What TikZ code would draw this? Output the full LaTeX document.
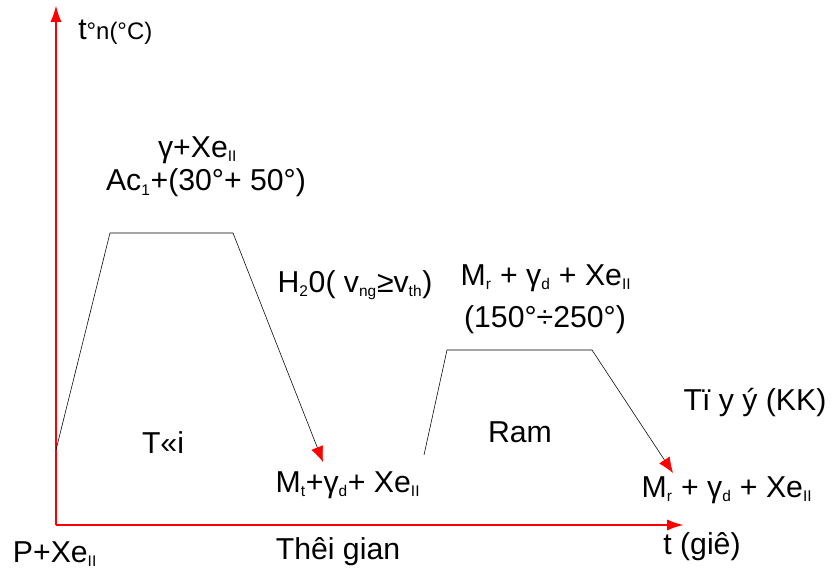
\documentclass[tikz,border=0pt]{standalone}
\usepackage{fontspec}
\setmainfont{Liberation Sans}
\usetikzlibrary{arrows.meta}
\newcommand{\lo}[1]{\textsubscript{\fontsize{11}{12}\selectfont #1}}

\begin{document}
\begin{tikzpicture}[scale=1,
  lbl/.style={font=\fontsize{21.5}{24}\selectfont, inner sep=0pt},
  axis/.style={red, line width=1.8pt, -{Latex[length=12pt,width=8pt]}},
  tip/.style={-{Latex[red,length=11pt,width=9pt]}}]
\useasboundingbox (-1.4,-1.1) rectangle (19.6,13.125);
% axes
\coordinate (o) at (0,0);
\coordinate (ytop) at (0,13.0);
\coordinate (xend) at (15.7,0);
\draw[axis] (o) -- (ytop);
\draw[axis] (o) -- (xend);
% toi
\coordinate (a0) at (0,1.875);
\coordinate (a1) at (1.35,7.3);
\coordinate (a2) at (4.425,7.3);
\coordinate (a3) at (6.675,1.575);
\draw (a0) -- (a1) -- (a2);
\draw[tip] (a2) -- (a3);
% ram
\coordinate (b0) at (9.2,1.75);
\coordinate (b1) at (9.775,4.375);
\coordinate (b2) at (13.4,4.375);
\coordinate (b3) at (15.425,1.3);
\draw (b0) -- (b1) -- (b2);
\draw[tip] (b2) -- (b3);
% labels
\node[lbl,anchor=west] (ylab) at (0.55,12.325) {t{\fontsize{17}{18}\selectfont°n(°C)}};
\node[lbl] (gx) at (3.54,9.375) {γ+Xe\lo{II}};
\node[lbl] (ac) at (3.75,8.55) {Ac\lo{1}+(30°+ 50°)};
\node[lbl] (nuoc) at (7.475,6.0) {H\lo{2}0( v\lo{ng}≥v\lo{th})};
\node[lbl] (mr1) at (12.25,6.175) {M\lo{r} + γ\lo{d} + Xe\lo{II}};
\node[lbl] (nd) at (12.225,5.125) {(150°÷250°)};
\node[lbl] (toi) at (2.675,2.05) {T«i};
\node[lbl] (ram) at (11.6,2.325) {Ram};
\node[lbl] (mt) at (7.3,1.0) {M\lo{t}+γ\lo{d}+ Xe\lo{II}};
\node[lbl] (tg) at (7.05,-0.675) {Thêi gian};
\node[lbl] (kk) at (17.475,3.05) {Tï y ý (KK)};
\node[lbl] (mr2) at (16.775,0.875) {M\lo{r} + γ\lo{d} + Xe\lo{II}};
\node[lbl] (xlab) at (16.15,-0.55) {t (giê)};
\node[lbl] (px) at (-0.025,-0.72) {P+Xe\lo{II}};
\end{tikzpicture}
\end{document}
